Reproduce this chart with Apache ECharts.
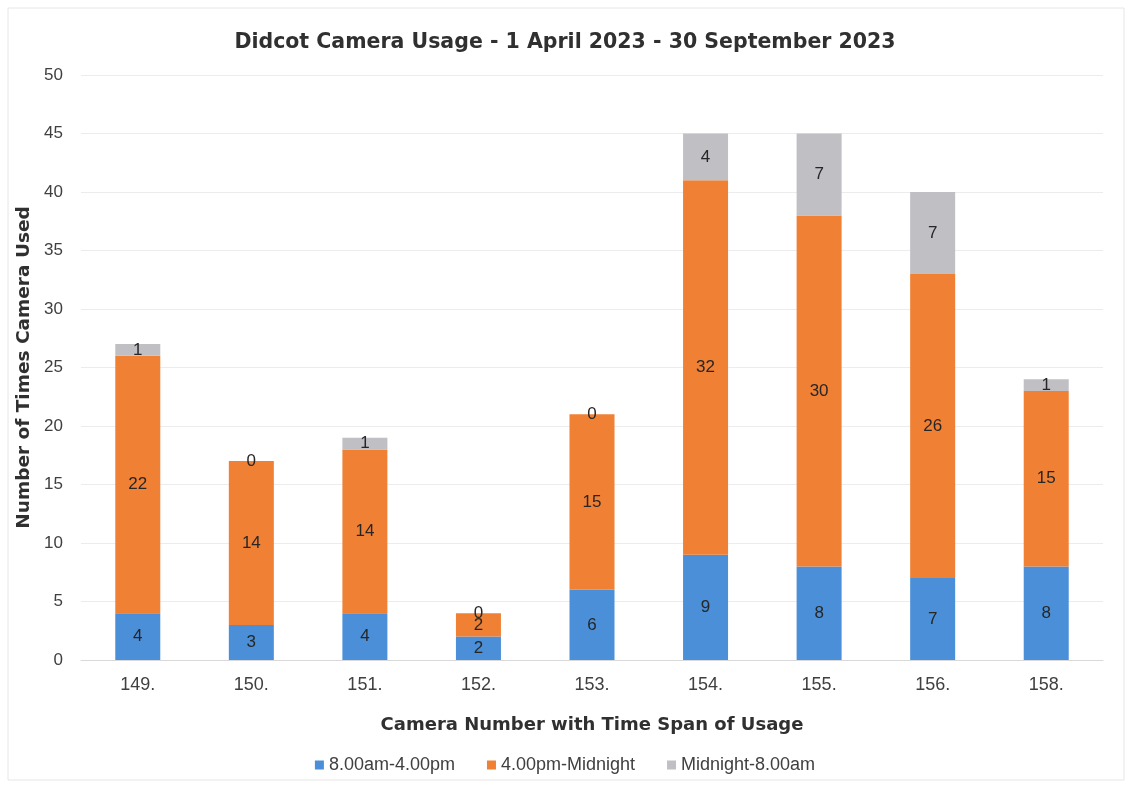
<!DOCTYPE html>
<html>
<head>
<meta charset="utf-8">
<script src="https://cdn.jsdelivr.net/npm/echarts@6/dist/echarts.min.js"></script>
<style>
  html, body { margin: 0; padding: 0; background: #ffffff; }
  #chart { width: 1130px; height: 785px; }
</style>
</head>
<body>
<div id="chart"></div>
<script>
// Camera numbers along the x axis
const cameras = ['149.', '150.', '151.', '152.', '153.', '154.', '155.', '156.', '158.'];
// Usage counts per time span
const daytime = [4, 3, 4, 2, 6, 9, 8, 7, 8];
const evening = [22, 14, 14, 2, 15, 32, 30, 26, 15];
const overnight = [1, 0, 1, 0, 0, 4, 7, 7, 1];
const yTicks = { min: 0, max: 50, interval: 5 };

const bodyFont = 'Liberation Sans, Arial, sans-serif';
const headFont = 'DejaVu Sans, Verdana, sans-serif';

const chart = echarts.init(document.getElementById('chart'));

const labelStyle = {
  show: true,
  position: 'inside',
  color: '#262626',
  fontSize: 17,
  fontFamily: bodyFont
};

function stackSeries(name, data, color) {
  return {
    name: name,
    type: 'bar',
    stack: 'usage',
    data: data,
    barWidth: 45,
    itemStyle: { color: color },
    label: labelStyle,
    emphasis: { disabled: true }
  };
}

chart.setOption({
  animation: false,
  backgroundColor: '#ffffff',
  textStyle: { fontFamily: bodyFont },
  graphic: [{
    type: 'rect',
    shape: { x: 8, y: 8, width: 1116, height: 772 },
    style: { fill: 'none', stroke: '#e6e6e6', lineWidth: 1 },
    silent: true
  }],
  title: {
    text: 'Didcot Camera Usage - 1 April 2023 - 30 September 2023',
    left: 'center',
    top: 27,
    textStyle: {
      fontSize: 20.5,
      fontWeight: 'bold',
      color: '#303030',
      fontFamily: headFont
    }
  },
  legend: {
    bottom: 6,
    left: 'center',
    itemWidth: 9,
    itemHeight: 9,
    itemGap: 32,
    icon: 'rect',
    textStyle: { fontSize: 18, color: '#404040', fontFamily: bodyFont },
    data: ['8.00am-4.00pm', '4.00pm-Midnight', 'Midnight-8.00am']
  },
  grid: { left: 81, right: 27, top: 75, bottom: 125 },
  xAxis: {
    type: 'category',
    data: cameras,
    name: 'Camera Number with Time Span of Usage',
    nameLocation: 'middle',
    nameGap: 56,
    nameTextStyle: { fontSize: 18, fontWeight: 'bold', color: '#303030', fontFamily: headFont },
    axisLine: { lineStyle: { color: '#d9d9d9' } },
    axisTick: { show: false },
    axisLabel: { fontSize: 18, color: '#404040', margin: 16 }
  },
  yAxis: {
    type: 'value',
    min: yTicks.min,
    max: yTicks.max,
    interval: yTicks.interval,
    name: 'Number of Times Camera Used',
    nameLocation: 'middle',
    nameGap: 45,
    nameTextStyle: { fontSize: 18.5, fontWeight: 'bold', color: '#303030', fontFamily: headFont },
    axisLine: { show: false },
    axisTick: { show: false },
    axisLabel: { fontSize: 17, color: '#404040', margin: 18 },
    splitLine: { lineStyle: { color: '#ececec' } }
  },
  series: [
    stackSeries('8.00am-4.00pm', daytime, '#4a8fd8'),
    stackSeries('4.00pm-Midnight', evening, '#f08033'),
    stackSeries('Midnight-8.00am', overnight, '#bfbfc4')
  ]
});
</script>
</body>
</html>
